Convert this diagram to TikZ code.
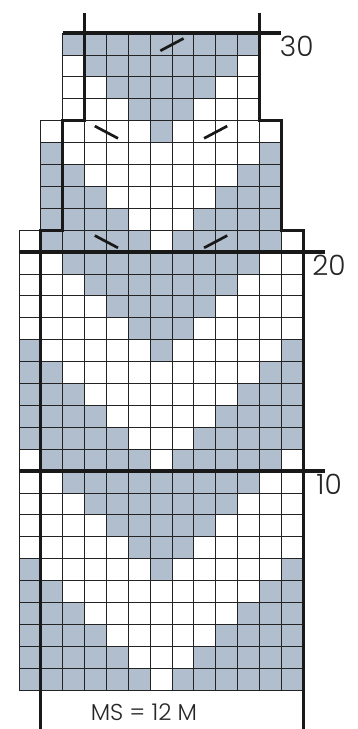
\documentclass[tikz,border=0pt]{standalone}
\usepackage{fontspec}
\setmainfont{Poppins}[UprightFont=* Light]
\definecolor{cellfill}{RGB}{176,190,206}
\definecolor{gridline}{RGB}{35,35,35}
\tikzset{
  cellbox/.style={draw=gridline, line width=0.75pt},
  shaded/.style={cellbox, fill=cellfill},
  plain/.style={cellbox, fill=white},
  outline/.style={line width=3.1pt, draw=black!90, line cap=butt, line join=miter},
  decmark/.style={line width=2.7pt, draw=black!90},
  rowlabel/.style={inner sep=0pt, font=\fontsize{28}{28}\selectfont, text=black!85},
}
\begin{document}
\begin{tikzpicture}
\useasboundingbox[fill=white] (0,-729pt) rectangle (357pt,0);
\begin{scope}[x=21.85pt, y=21.9pt, shift={(19pt,-690pt)}]
% rows: row / first col / last col / shaded columns
\foreach \r/\a/\b/\s in {
 1/0/12/{0,1,2,3,4,5,7,8,9,10,11,12},
 2/0/12/{0,1,2,3,4,8,9,10,11,12},
 3/0/12/{0,1,2,3,9,10,11,12},
 4/0/12/{0,1,2,10,11,12},
 5/0/12/{0,1,11,12},
 6/0/12/{0,6,12},
 7/0/12/{5,6,7},
 8/0/12/{4,5,6,7,8},
 9/0/12/{3,4,5,6,7,8,9},
 10/0/12/{2,3,4,5,6,7,8,9,10},
 11/0/12/{1,2,3,4,5,7,8,9,10,11},
 12/0/12/{0,1,2,3,4,8,9,10,11,12},
 13/0/12/{0,1,2,3,9,10,11,12},
 14/0/12/{0,1,2,10,11,12},
 15/0/12/{0,1,11,12},
 16/0/12/{0,6,12},
 17/0/12/{5,6,7},
 18/0/12/{4,5,6,7,8},
 19/0/12/{3,4,5,6,7,8,9},
 20/0/12/{2,3,4,5,6,7,8,9,10},
 21/0/12/{1,2,3,4,5,7,8,9,10,11},
 22/1/11/{1,2,3,4,8,9,10,11},
 23/1/11/{1,2,3,9,10,11},
 24/1/11/{1,2,10,11},
 25/1/11/{1,11},
 26/1/11/{6},
 27/2/10/{5,6,7},
 28/2/10/{4,5,6,7,8},
 29/2/10/{3,4,5,6,7,8,9},
 30/2/10/{2,3,4,5,6,7,8,9,10}}{
  \foreach \c in {\a,...,\b}{
    \draw[plain] (\c,\r-1) rectangle ++(1,1);
  }
  \foreach \c in \s{
    \draw[shaded] (\c,\r-1) rectangle ++(1,1);
  }
}
% decrease marks
\draw[decmark] (6.47,29.19) -- (7.53,29.75);
\draw[decmark] (3.47,25.75) -- (4.53,25.19);
\draw[decmark] (8.47,25.19) -- (9.53,25.75);
\draw[decmark] (3.47,20.75) -- (4.53,20.19);
\draw[decmark] (8.47,20.19) -- (9.53,20.75);
% size outline
\draw[outline] (1,-1.79) -- (1,21) -- (2,21) -- (2,26) -- (3,26) -- (3,30.93);
\draw[outline] (11,30.93) -- (11,26) -- (12,26) -- (12,21) -- (13,21) -- (13,-1.79);
% row markers
\draw[outline] (2,30) -- (12,30);
\draw[outline] (0,20) -- (14,20);
\draw[outline] (0,10) -- (14,10);
\node[rowlabel] (l30) at (12.71,29.39) {30};
\node[rowlabel] (l20) at (14.19,19.41) {20};
\node[rowlabel] (l10) at (14.19,9.41) {10};
\node[rowlabel, font=\fontsize{23}{23}\selectfont] (ms) at (5.72,-1.0) {MS = 12 M};
\end{scope}
\end{tikzpicture}
\end{document}
